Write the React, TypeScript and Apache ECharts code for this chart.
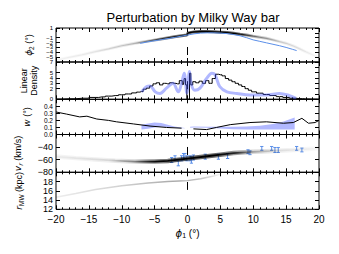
import React, { useEffect, useRef } from "react";
import * as echarts from "echarts";

const FONT = "Liberation Sans, Arial, sans-serif";
const BLUE = "#5b8fe9";
const LAV = "rgba(70,85,255,0.42)";

const chartTitle = "Perturbation by Milky Way bar";

// Panel 1: phi2
const phi2StreamPhi1 = [-20, -18, -16, -14, -12, -10, -8, -6, -4, -2, -0.1, 0.1, 1, 2, 3, 4, 5, 6, 7, 8, 9, 10, 11, 12, 13, 14, 15, 16, 17, 18, 19, 20];
const phi2StreamVal = [-5.6, -5.05, -4.5, -3.85, -3.3, -2.65, -2.15, -1.7, -1.25, -0.8, -0.45, 0.0, 0.2, 0.28, 0.27, 0.22, 0.15, 0.05, -0.1, -0.28, -0.45, -0.68, -0.9, -1.12, -1.45, -1.8, -2.15, -2.65, -3.25, -3.9, -4.5, -5.1];
const phi2ModelPhi1 = [-7.2, -6, -4, -2, 0, 1, 2, 3, 4, 5, 6, 7, 8, 9, 10, 11, 12, 13, 14, 15, 16, 16.6];
const phi2ModelVal = [-2.15, -1.85, -1.4, -0.95, -0.45, -0.2, -0.05, 0.0, 0.0, -0.05, -0.15, -0.35, -0.6, -1.0, -1.45, -1.75, -2.05, -2.35, -2.65, -3.0, -3.4, -3.65];

// Panel 2: linear density
const densPhi1 = [-20, -18, -16, -14, -13, -12, -11, -10, -9, -8, -7.5, -7, -6.5, -6, -5.5, -5, -4.5, -4, -3.5, -3, -2.5, -2, -1.5, -1, -0.6, -0.4, -0.2, 0, 0.2, 0.4, 0.6, 1, 1.5, 2, 2.5, 3, 3.5, 4, 4.5, 5, 5.5, 6, 6.5, 7, 7.5, 8, 8.5, 9, 9.5, 10, 11, 12, 13, 14, 15, 16, 17, 18, 19, 20];
const densVal = [0.05, 0.1, 0.2, 0.35, 0.45, 0.6, 0.7, 0.85, 1.0, 1.2, 1.35, 1.45, 1.9, 2.1, 2.5, 2.9, 3.1, 2.7, 3.0, 2.9, 3.1, 3.0, 2.9, 3.5, 2.8, 3.9, 2.7, 0, 0, 4.9, 2.7, 3.3, 3.1, 3.4, 3.0, 3.5, 3.0, 3.9, 4.7, 4.6, 4.4, 3.9, 3.6, 3.3, 3.0, 2.7, 2.4, 2.0, 1.7, 1.4, 1.15, 0.9, 0.7, 0.5, 0.35, 0.2, 0.12, 0.07, 0.04, 0.02];
const densModelPhi1 = [-7, -6.2, -5.7, -4.9, -4.2, -3.2, -2.2, -1.4, -0.9, -0.5, -0.1, 0.3, 0.6, 1.1, 1.9, 2.9, 3.7, 4.2, 4.9, 6, 7.5, 9.5, 12, 14, 15.5, 16.5];
const densModelVal = [1.4, 2.4, 2.5, 1.4, 1.1, 2.1, 3.0, 1.4, 3.0, 4.9, 1.2, 5.2, 2.7, 1.7, 2.1, 3.9, 4.9, 4.6, 2.4, 1.4, 1.1, 0.8, 0.8, 1.1, 0.7, 0.2];

// Panel 3: w
const wLeftPhi1 = [-20, -18.4, -16.4, -15.3, -13.8, -12, -10.8, -8.2, -5.7, -3.2, -0.9];
const wLeftVal = [0.32, 0.29, 0.25, 0.26, 0.22, 0.2, 0.18, 0.15, 0.12, 0.1, 0.09];
const wRightPhi1 = [0.9, 2.9, 4.4, 6.5, 9.5, 12, 14.6, 16.1, 17.4, 18.4, 19.4, 20];
const wRightVal = [0.08, 0.07, 0.1, 0.14, 0.17, 0.18, 0.16, 0.17, 0.23, 0.16, 0.17, 0.2];
const wBandLeftPhi1 = [-7, -6, -5, -4, -3, -2, -1, -0.4];
const wBandLeftLo = [0.07, 0.08, 0.1, 0.11, 0.105, 0.095, 0.09, 0.09];
const wBandLeftHi = [0.14, 0.155, 0.17, 0.165, 0.14, 0.115, 0.1, 0.092];
const wBandRightPhi1 = [0.4, 1, 3, 5, 7, 9, 11, 13, 14.5, 16.3];
const wBandRightLo = [0.095, 0.1, 0.095, 0.085, 0.075, 0.07, 0.07, 0.07, 0.07, 0.07];
const wBandRightHi = [0.11, 0.115, 0.11, 0.11, 0.11, 0.115, 0.125, 0.15, 0.18, 0.24];

// Panel 4: v_r
const vrStreamPhi1 = [-20, -17, -14, -11, -8, -5, -3, -1, 1, 3, 5, 7, 10, 13, 16, 20];
const vrStreamVal = [-55, -57.5, -59.5, -61.5, -63, -63, -62, -59.5, -57, -54.5, -52, -49.5, -47.5, -46, -44.5, -42];
const vrObsPhi1 = [-2.4, -1.9, -1.4, -0.9, -0.6, -0.4, -0.1, 0.4, 0.6, 0.9, 2.7, 4.7, 6.1, 9.2, 9.5, 11.3, 12.8, 13.3, 13.8, 16.6, 17.4];
const vrObsVal = [-60.5, -57.8, -65.7, -57.8, -55.2, -54.1, -57.8, -57.8, -60.5, -56.5, -55.2, -55.2, -54.1, -47.3, -49, -42, -42, -44.6, -44.6, -42, -44.6];
const vrObsErr = [4, 4, 4, 4, 5, 4, 4, 4, 5, 4, 4, 4, 4, 3, 3, 3, 3, 4, 4, 3, 3];

// Panel 5: r_MW
const rStreamPhi1 = [-20, -17, -14, -10, -6, -3, 0, 2, 4, 5];
const rStreamVal = [14.6, 15.4, 16.3, 17.1, 17.7, 18.0, 18.2, 18.6, 19.2, 19.6];

// dashed phi1 = 0 marker pieces per panel
const dashRanges = [[-4.56, -2.91], [1.9, 3.4], [0.234, 0.32], [-52.5, -39.8], [16.2, 17.9]];

// axes
const yRanges = [[-6, 1, 1], [0, 7, 1], [0, 0.5, 0.1], [-80, -20, 20], [12, 20, 2]];
const panelTops = [28, 62, 99.3, 134.5, 172.3];
const panelHeights = [34, 37.3, 35.2, 37.8, 37];

const zip = (a: number[], b: number[]) => a.map((v, i) => [v, b[i]]);
const fmtMinus = (s: string) => s.replace("-", "\u2212");

function grad(stops: [number, number][]) {
  return new echarts.graphic.LinearGradient(
    0, 0, 1, 0,
    stops.map(([o, a]) => ({ offset: o, color: `rgba(0,0,0,${a})` }))
  );
}

const richY = {
  i: { fontStyle: "italic", fontFamily: "DejaVu Sans", fontSize: 9, color: "#000" },
  s: { fontSize: 6.5, fontFamily: FONT, color: "#000", padding: [5, 0, 0, 0] },
  si: { fontSize: 6.5, fontFamily: "DejaVu Sans", fontStyle: "italic", color: "#000", padding: [5, 0, 0, 0] },
};
const richX = {
  i: { fontStyle: "italic", fontFamily: "DejaVu Sans", fontSize: 10, color: "#000" },
  s: { fontSize: 7, fontFamily: FONT, color: "#000", padding: [5, 0, 0, 0] },
};

const yNames = [
  "{i|ϕ}{s|2} (°)",
  "Linear\nDensity",
  "{i|w} (°)",
  "{i|v}{si|r} (km/s)",
  "{i|r}{s|MW} (kpc)",
];
const yNameGaps = [20, 17, 24, 33, 32];
const yLabelFont = [6, 6, 6.5, 9, 9];
const yLabelLH = [4.5, 4.5, 5.5, 10, 8];

export default function App() {
  const ref = useRef<HTMLDivElement>(null);
  useEffect(() => {
    if (!ref.current) return;
    const chart = echarts.init(ref.current, undefined, { renderer: "svg" });

    const grids = panelTops.map((t, i) => ({
      left: 56, width: 263, top: t, height: panelHeights[i],
      show: true, borderColor: "#000", borderWidth: 1, backgroundColor: "transparent",
    }));

    const xAxes: any[] = [];
    const yAxes: any[] = [];
    for (let i = 0; i < 5; i++) {
      for (const pos of ["bottom", "top"]) {
        xAxes.push({
          type: "value", gridIndex: i, min: -20, max: 20, interval: 5, position: pos,
          axisLine: { show: false, onZero: false }, splitLine: { show: false },
          axisTick: { show: true, inside: true, length: 4, lineStyle: { color: "#000", width: 1 } },
          minorTick: { show: true, splitNumber: 5, length: 2, lineStyle: { color: "#000", width: 1 } },
          axisLabel: {
            show: i === 4 && pos === "bottom", fontFamily: FONT, fontSize: 10, color: "#000", margin: 5,
            formatter: (v: number) => fmtMinus(String(v)),
          },
          name: i === 4 && pos === "bottom" ? "{i|ϕ}{s|1} (°)" : "",
          nameLocation: "middle", nameGap: 18,
          nameTextStyle: { fontFamily: FONT, fontSize: 10, color: "#000", rich: richX },
        });
      }
      const [mn, mx, iv] = yRanges[i];
      for (const pos of ["left", "right"]) {
        yAxes.push({
          type: "value", gridIndex: i, min: mn, max: mx, interval: iv, position: pos,
          axisLine: { show: false, onZero: false }, splitLine: { show: false },
          axisTick: { show: true, inside: true, length: 4, lineStyle: { color: "#000", width: 1 } },
          axisLabel: {
            show: pos === "left", fontFamily: FONT, fontSize: yLabelFont[i], lineHeight: yLabelLH[i],
            color: "#000", margin: 3,
            showMinLabel: i !== 0,
            showMaxLabel: !(i === 2 || i === 3 || i === 4),
            formatter: (v: number) => fmtMinus(i === 2 ? v.toFixed(1) : String(Math.round(v))),
          },
          name: pos === "left" ? yNames[i] : "",
          nameLocation: "middle", nameRotate: 90, nameGap: yNameGaps[i],
          nameTextStyle: { fontFamily: FONT, fontSize: 9, color: "#000", lineHeight: 10, rich: richY },
        });
      }
    }

    const line = (panel: number, data: any[], style: any, extra: any = {}) => ({
      type: "line", xAxisIndex: panel * 2, yAxisIndex: panel * 2, data,
      symbol: "none", showSymbol: false, silent: true, lineStyle: style, ...extra,
    });

    const series: any[] = [];
    // Panel 1
    series.push(line(0, zip(phi2StreamPhi1, phi2StreamVal), {
      width: 3,
      color: grad([[0, 0.02], [0.15, 0.04], [0.3, 0.1], [0.38, 0.3], [0.45, 0.55], [0.55, 0.7], [0.68, 0.6], [0.75, 0.25], [0.85, 0.08], [1, 0.01]]),
    }));
    series.push(line(0, zip(phi2StreamPhi1, phi2StreamVal), {
      width: 1.2,
      color: grad([[0, 0.03], [0.15, 0.07], [0.3, 0.22], [0.38, 0.6], [0.45, 0.95], [0.55, 1], [0.68, 1], [0.75, 0.45], [0.85, 0.15], [1, 0.02]]),
    }));
    series.push(line(0, zip(phi2ModelPhi1, phi2ModelVal), { width: 1, color: BLUE }));

    // Panel 2
    series.push(line(1, zip(densPhi1, densVal), { width: 1, color: "#000" }, { step: "middle" }));
    series.push(line(1, zip(densModelPhi1, densModelVal), { width: 3, color: LAV }, { smooth: 0.35 }));

    // Panel 3
    const bandItem = (phi: number[], lo: number[], hi: number[]) => ({
      type: "custom", xAxisIndex: 4, yAxisIndex: 4, silent: true, data: [[0, 0]],
      renderItem: (_p: any, api: any) => {
        const pts = phi.map((x, k) => api.coord([x, hi[k]]));
        const lows = phi.map((x, k) => api.coord([x, lo[k]])).reverse();
        return { type: "polygon", shape: { points: pts.concat(lows) }, style: { fill: LAV } };
      },
    });
    series.push(bandItem(wBandLeftPhi1, wBandLeftLo, wBandLeftHi));
    series.push(bandItem(wBandRightPhi1, wBandRightLo, wBandRightHi));
    series.push(line(2, zip(wLeftPhi1, wLeftVal), { width: 1, color: "#000" }));
    series.push(line(2, zip(wRightPhi1, wRightVal), { width: 1, color: "#000" }));

    // Panel 4
    series.push(line(3, zip(vrStreamPhi1, vrStreamVal), {
      width: 4.5,
      color: grad([[0, 0.04], [0.2, 0.06], [0.3, 0.15], [0.36, 0.4], [0.45, 0.6], [0.6, 0.6], [0.68, 0.4], [0.75, 0.15], [0.85, 0.06], [1, 0.02]]),
    }));
    series.push(line(3, zip(vrStreamPhi1, vrStreamVal), {
      width: 1.8,
      color: grad([[0, 0.04], [0.2, 0.1], [0.3, 0.4], [0.38, 0.95], [0.6, 1], [0.68, 0.75], [0.75, 0.25], [0.85, 0.08], [1, 0.02]]),
    }));
    series.push({
      type: "custom", xAxisIndex: 6, yAxisIndex: 6, silent: true,
      data: vrObsPhi1.map((x, k) => [x, vrObsVal[k], vrObsErr[k]]),
      renderItem: (_p: any, api: any) => {
        const x = api.value(0), y = api.value(1), e = api.value(2);
        const t = api.coord([x, y + e]);
        const b = api.coord([x, y - e]);
        const cw = 1.6;
        const st = { stroke: BLUE, lineWidth: 1 };
        return {
          type: "group",
          children: [
            { type: "line", shape: { x1: t[0], y1: t[1], x2: b[0], y2: b[1] }, style: st },
            { type: "line", shape: { x1: t[0] - cw, y1: t[1], x2: t[0] + cw, y2: t[1] }, style: st },
            { type: "line", shape: { x1: b[0] - cw, y1: b[1], x2: b[0] + cw, y2: b[1] }, style: st },
          ],
        };
      },
    });

    // Panel 5
    series.push(line(4, zip(rStreamPhi1, rStreamVal), {
      width: 1.5,
      color: grad([[0, 0.07], [0.4, 0.18], [0.75, 0.35], [0.9, 0.2], [1, 0.04]]),
    }));

    // dash markers at phi1 = 0
    dashRanges.forEach((r, i) => {
      series.push({
        type: "custom", xAxisIndex: i * 2, yAxisIndex: i * 2, silent: true,
        data: [[0, r[0], r[1]]],
        renderItem: (_p: any, api: any) => {
          const a = api.coord([api.value(0), api.value(1)]);
          const b = api.coord([api.value(0), api.value(2)]);
          return { type: "line", shape: { x1: a[0], y1: a[1], x2: b[0], y2: b[1] }, style: { stroke: "#000", lineWidth: 1 } };
        },
      });
    });

    chart.setOption({
      animation: false,
      backgroundColor: "#fff",
      title: {
        text: chartTitle, left: 188, top: 6, textAlign: "center",
        textStyle: { fontFamily: FONT, fontSize: 13, fontWeight: "normal", color: "#000" },
      },
      grid: grids,
      xAxis: xAxes,
      yAxis: yAxes,
      series,
    });
    return () => chart.dispose();
  }, []);
  return <div ref={ref} style={{ position: "absolute", left: 0, top: 0, width: 339, height: 254 }} />;
}
